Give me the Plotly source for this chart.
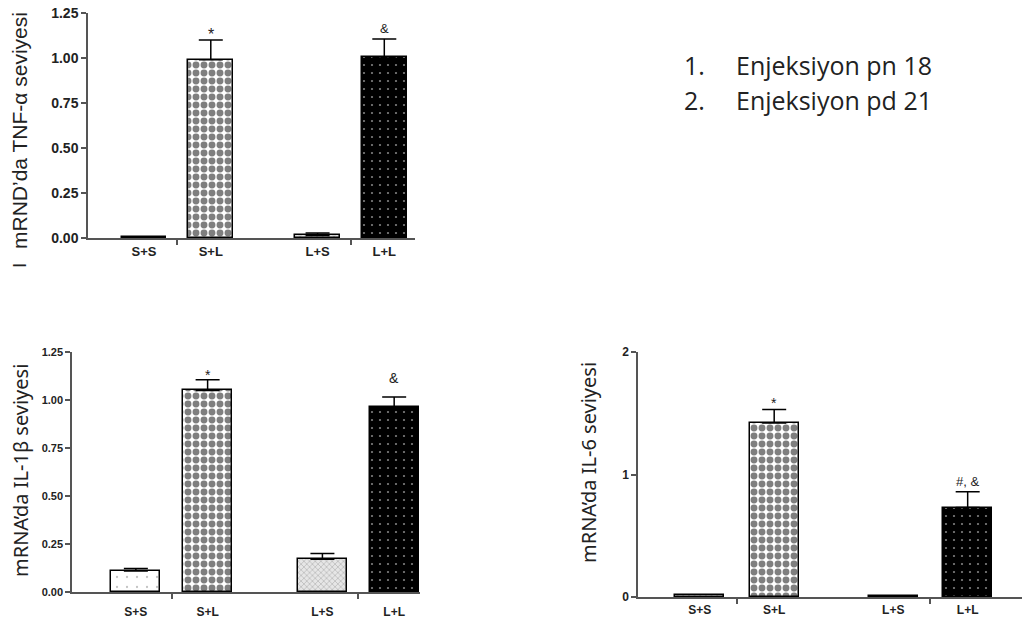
import plotly.graph_objects as go

categories = ["S+S", "S+L", "L+S", "L+L"]

tnf_mean = [0.004, 0.99, 0.014, 1.005]
tnf_err = [0.0, 0.11, 0.014, 0.10]
tnf_marks = ["", "*", "", "&"]

il1b_mean = [0.11, 1.05, 0.17, 0.965]
il1b_err = [0.012, 0.055, 0.03, 0.05]
il1b_marks = ["", "*", "", "&"]

il6_mean = [0.02, 1.42, 0.01, 0.73]
il6_err = [0.0, 0.11, 0.0, 0.13]
il6_marks = ["", "*", "", "#, &"]

legend_lines = [("1.", "Enjeksiyon pn 18"), ("2.", "Enjeksiyon pd 21")]

W, H = 1023, 630
xpos = [0, 1, 2.6, 3.6]
seps = [0.5, 3.1]

solid_black = dict(col="black", shape="", fg="black", bg="black", size=6, sol=0.3)
checker = dict(col="white", shape=".", fg="black", bg="white", size=8, sol=0.58)
dotted_black = dict(col="black", shape=".", fg="white", bg="black", size=8, sol=0.06)
sparse_dots = dict(col="white", shape=".", fg="#888", bg="white", size=10, sol=0.04)
grey_hatch = dict(col="#ccc", shape="x", fg="#666", bg="#e6e6e6", size=4, sol=0.25)

panels = [
    dict(px=(88, 415), py=(13, 238), xr=(-0.84, 4.06), yr=(0, 1.25), bw=0.67,
         mean=tnf_mean, err=tnf_err, marks=tnf_marks, star=(16, -5), amp=(13, 1),
         ytv=[0, 0.25, 0.5, 0.75, 1.0, 1.25], ytt=["0.00", "0.25", "0.50", "0.75", "1.00", "1.25"],
         styles=[solid_black, checker, grey_hatch, dotted_black],
         title="mRND’da TNF-α seviyesi", tfont=dict(family="Liberation Sans", size=21, color="#222"),
         tx=19, ty=131, tickfs=14, catfs=13, standoff=1),
    dict(px=(72, 420), py=(352, 592), xr=(-0.89, 3.96), yr=(0, 1.25), bw=0.68,
         mean=il1b_mean, err=il1b_err, marks=il1b_marks, star=(14, -5), amp=(14, 9),
         ytv=[0, 0.25, 0.5, 0.75, 1.0, 1.25], ytt=["0.00", "0.25", "0.50", "0.75", "1.00", "1.25"],
         styles=[sparse_dots, checker, grey_hatch, dotted_black],
         title="mRNA’da IL-1β seviyesi", tfont=dict(family="Noto Sans", size=20, color="#222"),
         tx=20, ty=471, tickfs=11, catfs=12, standoff=8),
    dict(px=(638, 1022), py=(352, 597), xr=(-0.83, 4.33), yr=(0, 2), bw=0.66,
         mean=il6_mean, err=il6_err, marks=il6_marks, star=(14, -3), amp=(13, 1),
         ytv=[0, 1, 2], ytt=["0", "1", "2"],
         styles=[grey_hatch, checker, grey_hatch, dotted_black],
         title="mRNA’da IL-6 seviyesi", tfont=dict(family="Noto Sans", size=20, color="#222"),
         tx=588, ty=463, tickfs=12, catfs=12, standoff=1),
]

fig = go.Figure()
annotations = []
axis_color = "#555"

for i, p in enumerate(panels, start=1):
    xa = "x" if i == 1 else f"x{i}"
    ya = "y" if i == 1 else f"y{i}"
    for j, st in enumerate(p["styles"]):
        fig.add_trace(go.Bar(
            x=[xpos[j]], y=[p["mean"][j]], width=p["bw"], xaxis=xa, yaxis=ya,
            marker=dict(color=st["col"], line=dict(color="black", width=1.5),
                        pattern=dict(shape=st["shape"], fgcolor=st["fg"], bgcolor=st["bg"],
                                     size=st["size"], solidity=st["sol"])),
            error_y=dict(type="data", array=[p["err"][j]], arrayminus=[0], symmetric=False,
                         color="black", thickness=1.5, width=12, visible=p["err"][j] > 0),
            showlegend=False, hoverinfo="skip",
        ))
    dom_x = [p["px"][0] / W, p["px"][1] / W]
    dom_y = [(H - p["py"][1]) / H, (H - p["py"][0]) / H]
    xkey = "xaxis" if i == 1 else f"xaxis{i}"
    ykey = "yaxis" if i == 1 else f"yaxis{i}"
    fig.update_layout(**{
        xkey: dict(domain=dom_x, range=list(p["xr"]), anchor=ya, showline=True, linecolor=axis_color,
                   linewidth=1.5, tickvals=xpos, ticktext=categories, ticks="", ticklen=0,
                   showgrid=False, zeroline=False, ticklabelstandoff=p["standoff"], automargin=False,
                   tickfont=dict(family="Liberation Sans", size=p["catfs"], color="#222", weight="bold"),
                   minor=dict(tickvals=seps, ticks="outside", ticklen=5, tickcolor=axis_color,
                              tickwidth=1.5, showgrid=False)),
        ykey: dict(domain=dom_y, range=list(p["yr"]), anchor=xa, showline=True, linecolor=axis_color,
                   linewidth=1.5, tickvals=p["ytv"], ticktext=p["ytt"], ticks="outside", ticklen=5,
                   tickcolor=axis_color, tickwidth=1.5, showgrid=False, zeroline=False, automargin=False,
                   tickfont=dict(family="Liberation Sans", size=p["tickfs"], color="#222", weight="bold")),
    })
    for xv, m, e, t in zip(xpos, p["mean"], p["err"], p["marks"]):
        if t:
            fs, ys = p["star"] if t == "*" else p["amp"]
            annotations.append(dict(x=xv, y=m + e, xref=xa, yref=ya, text=t, showarrow=False,
                                    yanchor="bottom", yshift=ys,
                                    font=dict(family="Liberation Sans", size=fs, color="#222")))
    annotations.append(dict(x=p["tx"] / W, y=(H - p["ty"]) / H, xref="paper", yref="paper",
                            text=p["title"], textangle=-90, showarrow=False,
                            xanchor="center", yanchor="middle", font=p["tfont"]))

# stray rotated glyph at the bottom of the first title
annotations.append(dict(x=19 / W, y=(H - 266) / H, xref="paper", yref="paper", text="I",
                        textangle=-90, showarrow=False, xanchor="center", yanchor="middle",
                        font=dict(family="Liberation Sans", size=19, color="#222")))

for k, (num, txt) in enumerate(legend_lines):
    yy = 65 + 35 * k
    annotations.append(dict(x=682 / W, y=(H - yy) / H, xref="paper", yref="paper", text=num,
                            showarrow=False, xanchor="left", yanchor="middle",
                            font=dict(family="Open Sans", size=25, color="#222")))
    annotations.append(dict(x=734 / W, y=(H - yy) / H, xref="paper", yref="paper", text=txt,
                            showarrow=False, xanchor="left", yanchor="middle",
                            font=dict(family="Open Sans", size=25, color="#222")))

fig.update_layout(width=W, height=H, margin=dict(l=0, r=0, t=0, b=0, pad=0, autoexpand=False),
                  paper_bgcolor="white", plot_bgcolor="white", bargap=0, barmode="overlay",
                  annotations=annotations)

fig.write_html("out.html", config={"displayModeBar": False},
               post_script="document.body.style.margin='0';document.body.style.overflow='hidden';")
